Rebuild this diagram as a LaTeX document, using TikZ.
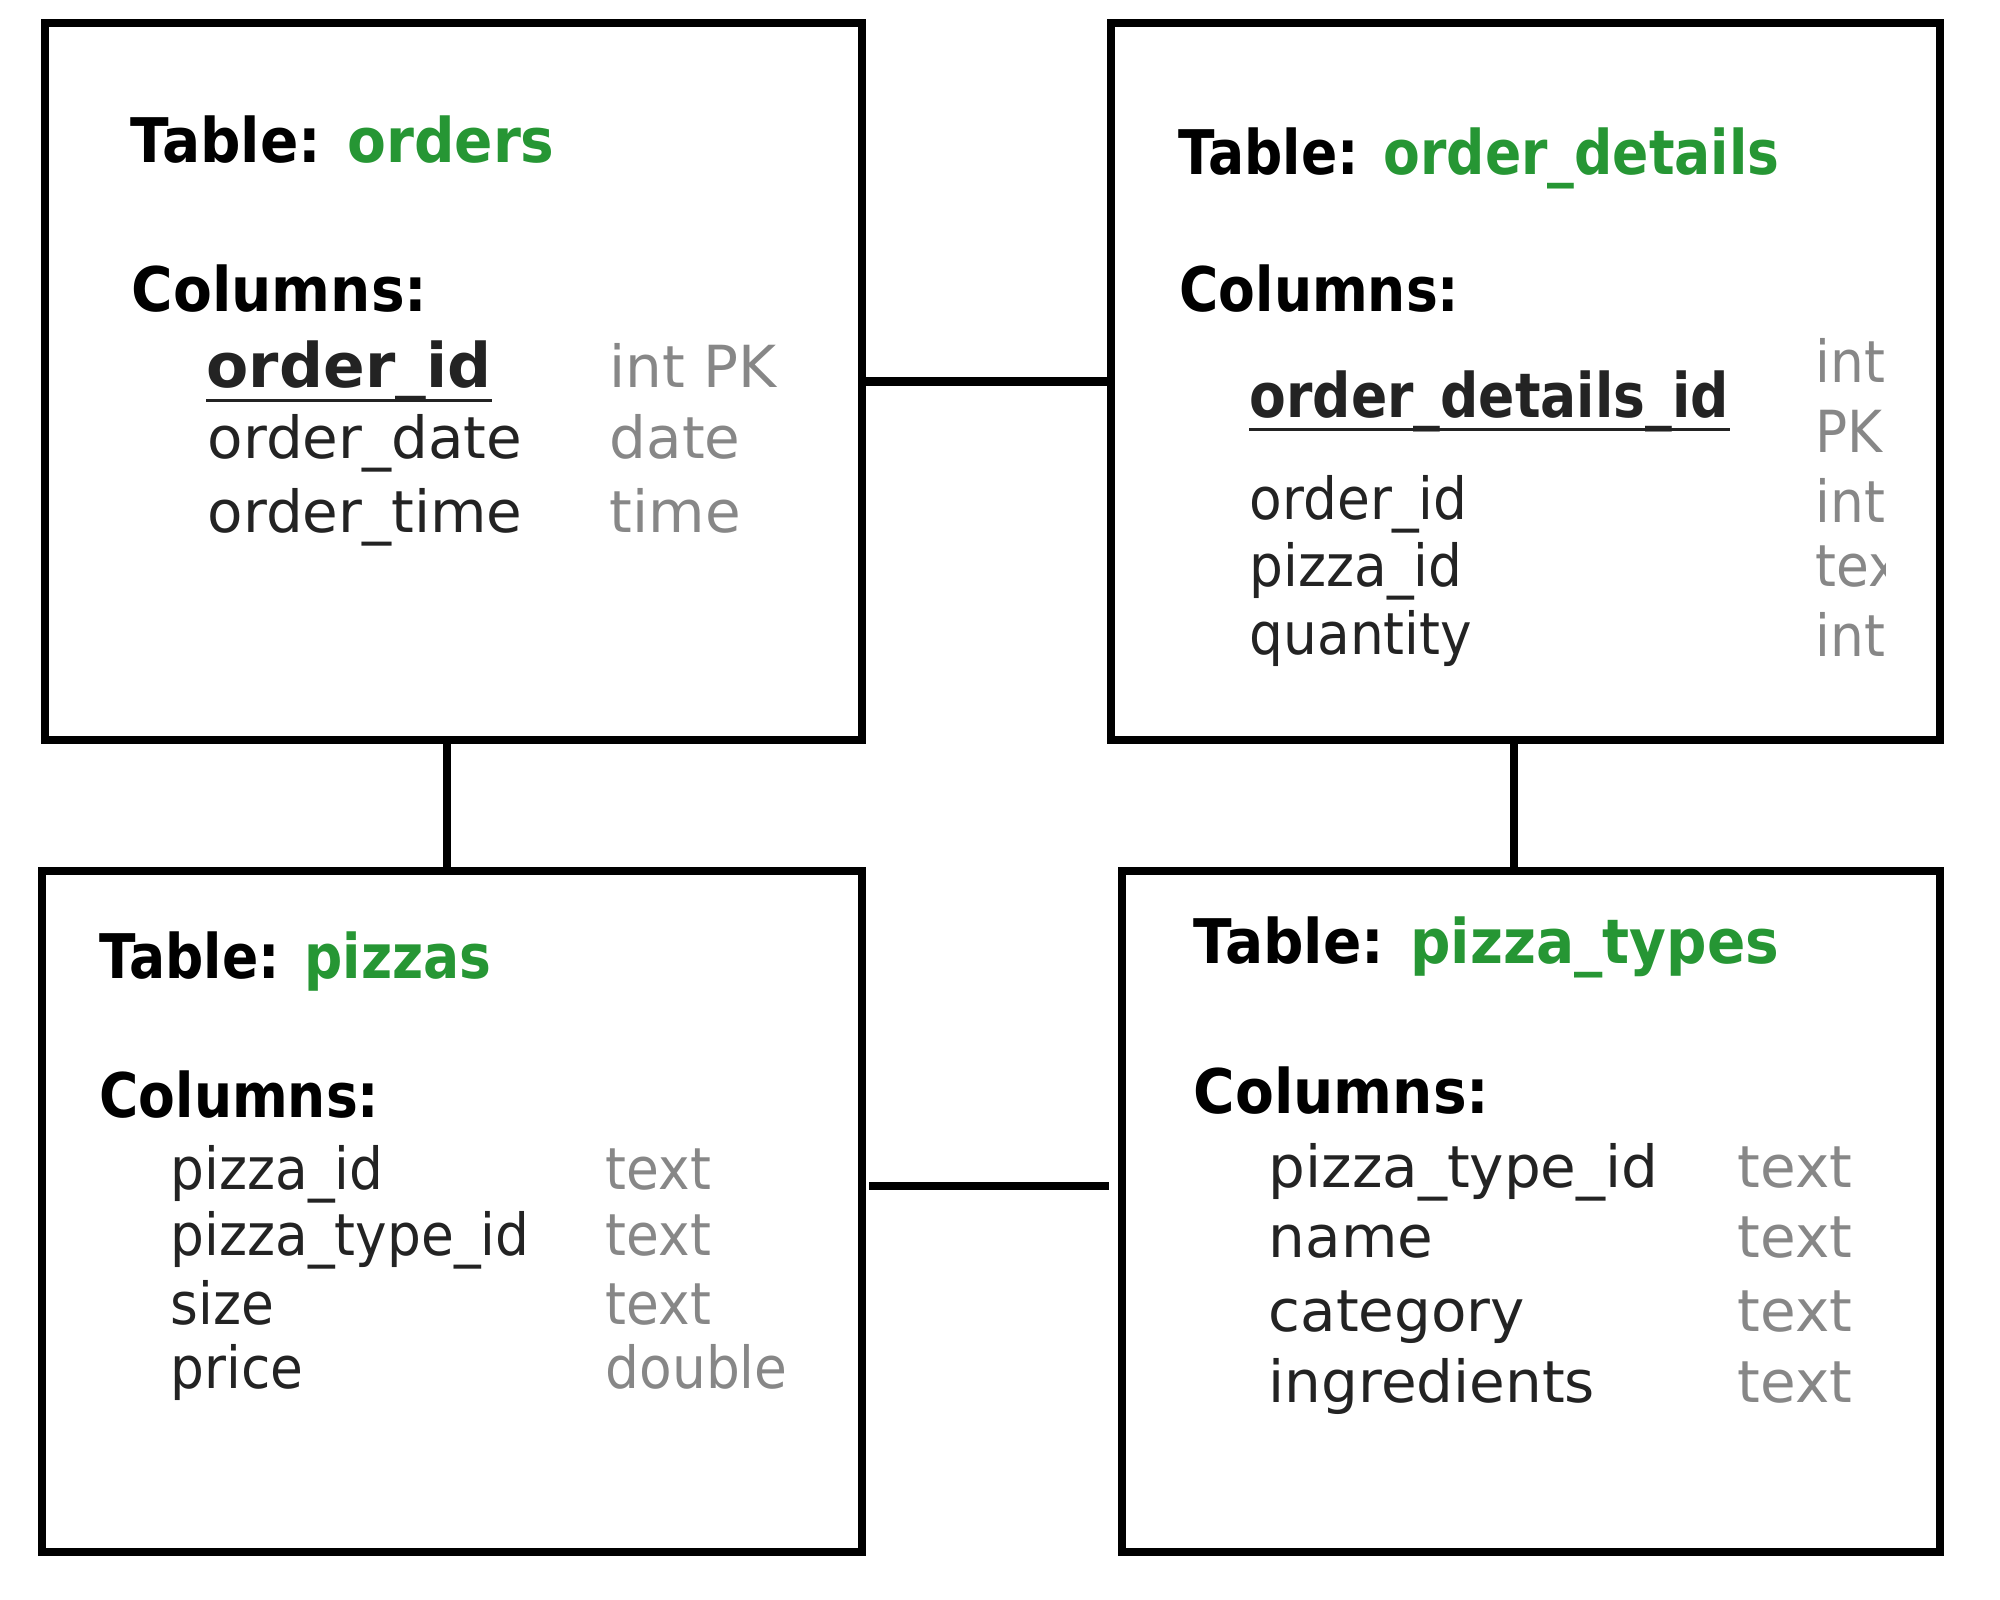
\documentclass[tikz,border=0pt]{standalone}
\usepackage{fontspec}
\setmainfont{DejaVu Sans}
\newfontfamily\headfont{DejaVu Sans}[FakeStretch = 0.92]
\newfontfamily\narrowfont{DejaVu Sans}[FakeStretch = 0.87]
\definecolor{namegreen}{RGB}{38, 150, 52}
\definecolor{typegray}{RGB}{135, 135, 135}
\definecolor{fieldgray}{RGB}{35, 35, 35}
\tikzset {
    table box/.style = {draw, line width = 2.3pt, inner sep = 0pt, outer sep = 1.15pt},
    link/.style = {line width = 2.3pt},
    key line/.style = {line width = 0.9pt, fieldgray},
    heading/.style = {
        anchor = base west,
        inner sep = 0pt,
        font = \headfont\bfseries\fontsize{17.5}{20}\selectfont
    },
    field/.style = {
        anchor = base west,
        inner sep = 0pt,
        text = fieldgray,
        font = \fontsize{16.5}{19}\selectfont
    },
    key field/.style = {field, font = \bfseries\fontsize{17.5}{20}\selectfont},
    type/.style = {field, text = typegray},
    %
    narrow box/.style = {
        heading/.append style = {font = \narrowfont\bfseries\fontsize{17.5}{20}\selectfont},
        field/.append style = {font = \headfont\fontsize{16.5}{19}\selectfont},
        key field/.append style = {font = \narrowfont\bfseries\fontsize{17.5}{20}\selectfont}
    }
}

\begin{document}
\begin{tikzpicture}
    \useasboundingbox (0, 0) rectangle (20, -16);
    \node (orders) [table box, minimum width = 8.17cm, minimum height = 7.17cm] at (4.535, -3.815) {};
    \node (details) [table box, minimum width = 8.29cm, minimum height = 7.17cm] at (15.255, -3.815) {};
    \node (pizzas) [table box, minimum width = 8.20cm, minimum height = 6.81cm] at (4.52, -12.115) {};
    \node (types) [table box, minimum width = 8.18cm, minimum height = 6.81cm] at (15.31, -12.115) {};
    \coordinate (leftlink) at (4.47, 0);
    \coordinate (rightlink) at (15.14, 0);
    \coordinate (lowlink) at (0, -11.86);
    \draw [link] (orders.east) -- (details.west);
    \draw [link] (orders.south -| leftlink) -- (pizzas.north -| leftlink);
    \draw [link] (details.south -| rightlink) -- (types.north -| rightlink);
    \draw [link, shorten < = 0.03cm, shorten > = 0.09cm] (pizzas.east |- lowlink) -- (types.west |- lowlink);
    % orders
    \node (ordtitle) [heading] at (1.30, -1.63) {Table: \textcolor{namegreen}{orders}};
    \node (ordcols) [heading] at (1.31, -3.12) {Columns:};
    \node (ordid) [key field] at (2.06, -3.88) {order\_id};
    \node (orddate) [field] at (2.07, -4.59) {order\_date};
    \node (ordtime) [field] at (2.07, -5.33) {order\_time};
    \node (ordidtype) [type] at (6.09, -3.88) {int PK};
    \node (orddatetype) [type] at (6.09, -4.59) {date};
    \node (ordtimetype) [type] at (6.09, -5.33) {time};
    \draw [key line] ([yshift = -3.5pt]ordid.base west) -- ([yshift = -3.5pt]ordid.base east);
    % order_details
    \begin{scope}[narrow box]
        \clip (11.2, -0.3) rectangle (18.85, -7.3);
        \node (dettitle) [heading] at (11.78, -1.75) {Table: \textcolor{namegreen}{order\_details}};
        \node (detcols) [heading] at (11.79, -3.12) {Columns:};
        \node (detid) [key field] at (12.49, -4.18) {order\_details\_id};
        \node (detorder) [field] at (12.49, -5.20) {order\_id};
        \node (detpizza) [field] at (12.49, -5.87) {pizza\_id};
        \node (detqty) [field] at (12.49, -6.55) {quantity};
        \node (detidtype) [type] at (18.15, -3.83) {int};
        \node (detidkey) [type] at (18.15, -4.53) {PK};
        \node (detordertype) [type] at (18.15, -5.23) {int};
        \node (detpizzatype) [type] at (18.15, -5.87) {text};
        \node (detqtytype) [type] at (18.15, -6.57) {int};
        \draw [key line] ([yshift = -3.3pt]detid.base west) -- ([yshift = -3.3pt]detid.base east);
    \end{scope}
    % pizzas
    \begin{scope}[narrow box]
        \node (piztitle) [heading] at (0.99, -9.79) {Table: \textcolor{namegreen}{pizzas}};
        \node (pizcols) [heading] at (0.99, -11.17) {Columns:};
        \node (pizid) [field] at (1.70, -11.89) {pizza\_id};
        \node (piztype) [field] at (1.70, -12.55) {pizza\_type\_id};
        \node (pizsize) [field] at (1.70, -13.24) {size};
        \node (pizprice) [field] at (1.70, -13.88) {price};
        \node (pizidtype) [type] at (6.05, -11.89) {text};
        \node (piztypetype) [type] at (6.05, -12.55) {text};
        \node (pizsizetype) [type] at (6.05, -13.24) {text};
        \node (pizpricetype) [type] at (6.05, -13.88) {double};
    \end{scope}
    % pizza_types
    \node (typtitle) [heading] at (11.93, -9.63) {Table: \textcolor{namegreen}{pizza\_types}};
    \node (typcols) [heading] at (11.93, -11.14) {Columns:};
    \node (typid) [field] at (12.68, -11.87) {pizza\_type\_id};
    \node (typname) [field] at (12.68, -12.57) {name};
    \node (typcat) [field] at (12.68, -13.31) {category};
    \node (typingr) [field] at (12.68, -14.02) {ingredients};
    \node (typidtype) [type] at (17.37, -11.87) {text};
    \node (typnametype) [type] at (17.37, -12.57) {text};
    \node (typcattype) [type] at (17.37, -13.31) {text};
    \node (typingrtype) [type] at (17.37, -14.02) {text};
\end{tikzpicture}
\end{document}
